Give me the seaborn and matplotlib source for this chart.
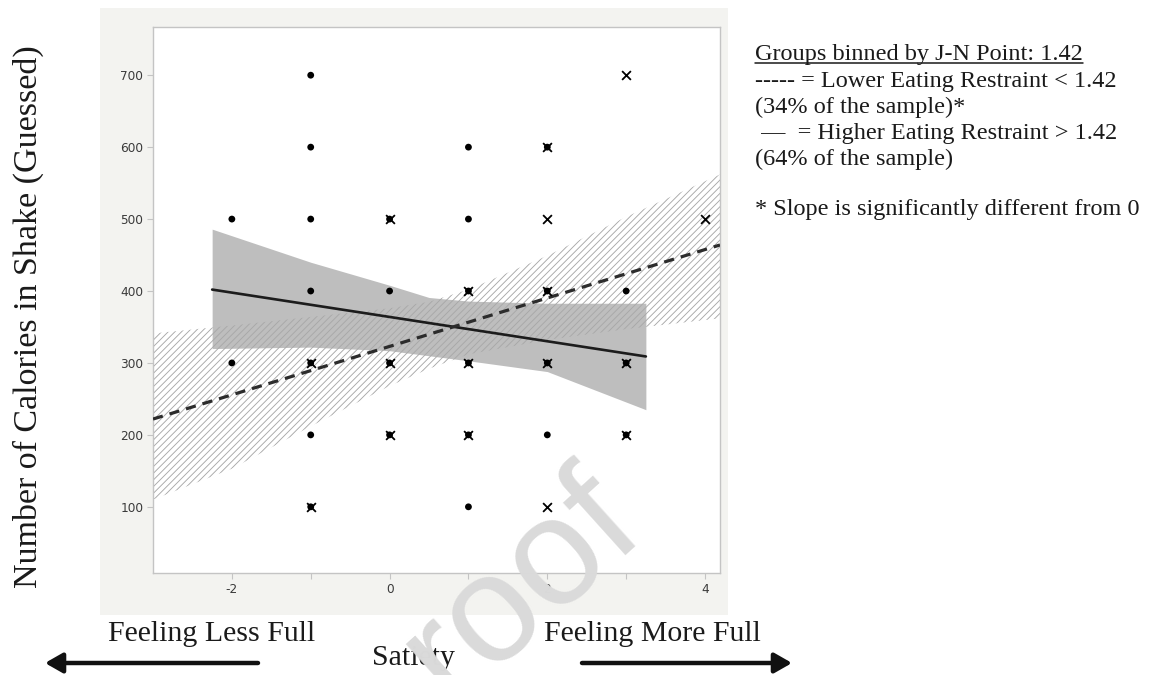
import matplotlib
matplotlib.use("Agg")
import matplotlib.pyplot as plt
from matplotlib.patches import Rectangle, FancyArrowPatch
from matplotlib.lines import Line2D
import seaborn as sns

# Satiety score vs. guessed calories, split at the J-N point (1.42)
higher_satiety = [-1, -1, 1, 2, -2, -1, 0, 1, -1, 0, 1, 2, 3,
                  -2, -1, 0, 1, 2, 3, -1, 0, 1, 2, 3, -1, 1]
higher_calories = [700, 600, 600, 600, 500, 500, 500, 500, 400, 400, 400, 400, 400,
                   300, 300, 300, 300, 300, 300, 200, 200, 200, 200, 200, 100, 100]
lower_satiety = [3, 2, 0, 2, 4, 1, 2, -1, 0, 1, 2, 3, 0, 1, 3, -1, 2]
lower_calories = [700, 600, 500, 500, 500, 400, 400, 300, 300, 300, 300, 300,
                  200, 200, 200, 100, 100]

# Fitted regression lines (end points)
higher_fit_x = [-2.25, 3.25]
higher_fit_y = [402, 309]
lower_fit_x = [-3.0, 4.19]
lower_fit_y = [222, 464]

# Confidence bands around each fit
higher_band_x = [-2.25, -1.0, 0.0, 0.5, 1.0, 2.0, 3.25]
higher_band_lo = [320, 322, 317, 310, 303, 288, 235]
higher_band_hi = [486, 440, 408, 391, 386, 383, 383]
lower_band_x = [-3.0, -2.0, -1.0, 0.0, 0.5, 1.0, 2.0, 3.0, 4.19]
lower_band_lo = [110, 153, 212, 268, 292, 312, 332, 347, 362]
lower_band_hi = [341, 352, 364, 376, 385, 402, 449, 503, 562]

y_ticks = [100, 200, 300, 400, 500, 600, 700]
x_ticks = [-2, -1, 0, 1, 2, 3, 4]
x_tick_labels = ["-2", "", "0", "", "2", "", "4"]

legend_lines = [
    "Groups binned by J-N Point: 1.42",
    "----- = Lower Eating Restraint < 1.42",
    "(34% of the sample)*",
    " \u2014  = Higher Eating Restraint > 1.42",
    "(64% of the sample)",
    "* Slope is significantly different from 0",
]

sns.set_style("white")
plt.rcParams["font.family"] = ["DejaVu Sans"]
plt.rcParams["axes.unicode_minus"] = False
plt.rcParams["hatch.linewidth"] = 0.65

W, H = 1165, 675
fig = plt.figure(figsize=(W / 100, H / 100), dpi=100)
fig.patch.set_facecolor("white")


def fx(px):
    return px / W


def fy(py):
    return 1 - py / H


# light panel behind the chart
fig.add_artist(Rectangle((fx(100), fy(615)), fx(728) - fx(100), fy(8) - fy(615),
                         transform=fig.transFigure, facecolor="#f3f3f0",
                         edgecolor="none", zorder=0))

ax = fig.add_axes([fx(153), fy(573), fx(720) - fx(153), fy(27) - fy(573)])
ax.set_facecolor("white")
ax.set_zorder(1)

# confidence bands
ax.fill_between(higher_band_x, higher_band_lo, higher_band_hi,
                color="#bebebe", lw=0, zorder=1)
ax.fill_between(lower_band_x, lower_band_lo, lower_band_hi,
                facecolor="none", edgecolor="#a8a8a8", hatch="/////",
                lw=0, zorder=2)

# regression lines
sns.lineplot(x=higher_fit_x, y=higher_fit_y, color="#1c1c1c", lw=1.9,
             ax=ax, zorder=3)
sns.lineplot(x=lower_fit_x, y=lower_fit_y, color="#2c2c2c", lw=2.3,
             linestyle=(0, (3.2, 2.2)), ax=ax, zorder=3)

# observations
sns.scatterplot(x=higher_satiety, y=higher_calories, marker="o", s=24,
                color="black", edgecolor="none", ax=ax, zorder=5)
sns.scatterplot(x=lower_satiety, y=lower_calories, marker="x", s=40,
                color="black", linewidth=1.3, ax=ax, zorder=6)

ax.set_xlim(-3.0, 4.19)
ax.set_ylim(8, 767)
ax.set_yticks(y_ticks)
ax.set_yticklabels([str(v) for v in y_ticks])
ax.set_xticks(x_ticks)
ax.set_xticklabels(x_tick_labels)
ax.set_xlabel("")
ax.set_ylabel("")
for sp in ax.spines.values():
    sp.set_color("#c4c4c4")
    sp.set_linewidth(1.0)
ax.tick_params(axis="both", which="both", length=4, width=0.8, color="#c4c4c4",
               labelsize=8.7, labelcolor="#3a3a3a", pad=3, direction="out",
               bottom=True, left=True)

serif = ["Liberation Serif", "DejaVu Serif"]

# axis titles
fig.text(fx(28), fy(317), "Number of Calories in Shake (Guessed)", rotation=90,
         ha="center", va="center", fontsize=24.5, family=serif, color="#1a1a1a")
fig.text(fx(212), fy(634), "Feeling Less Full", ha="center", va="center",
         fontsize=21.5, family=serif, color="#1a1a1a")
fig.text(fx(652), fy(634), "Feeling More Full", ha="center", va="center",
         fontsize=21.5, family=serif, color="#1a1a1a")
fig.text(fx(413), fy(658), "Satiety", ha="center", va="center",
         fontsize=21.5, family=serif, color="#1a1a1a")

# direction arrows
for x0, x1 in [(258, 45), (582, 792)]:
    fig.add_artist(FancyArrowPatch((fx(x0), fy(663)), (fx(x1), fy(663)),
                                   transform=fig.transFigure,
                                   arrowstyle="-|>,head_length=0.7,head_width=0.4",
                                   mutation_scale=15, lw=3.2, color="#111111",
                                   shrinkA=0, shrinkB=0))

# key text on the right
baselines = [60, 87, 113, 139, 165, 215]
texts = []
for line, b in zip(legend_lines, baselines):
    texts.append(fig.text(fx(755), fy(b), line, ha="left", va="baseline",
                          fontsize=17.5, family=serif, color="#1a1a1a"))

fig.canvas.draw()
bb = texts[0].get_window_extent()
inv = fig.transFigure.inverted()
(ux0, uy), (ux1, _) = inv.transform([(bb.x0, H - baselines[0] - 3),
                                     (bb.x1, H - baselines[0] - 3)])
fig.add_artist(Line2D([ux0, ux1], [uy, uy], transform=fig.transFigure,
                      color="#1a1a1a", lw=1.1))

# watermark
fig.text(fx(450), fy(704), "roof", rotation=42, rotation_mode="anchor",
         ha="left", va="baseline", fontsize=110, family=["Liberation Sans"],
         color="#dadada", zorder=20)

fig.savefig("out.png", dpi=100)
